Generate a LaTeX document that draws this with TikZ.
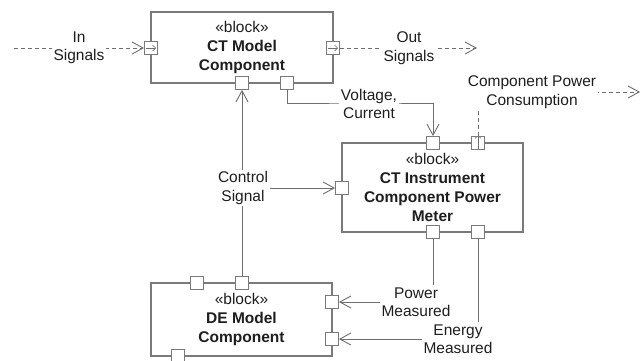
\documentclass[tikz,border=0pt]{standalone}
\usepackage{fontspec}
\setmainfont{Liberation Sans}
\usepackage{tikz}
\usetikzlibrary{arrows.meta,positioning,backgrounds}
\definecolor{wire}{HTML}{6E6E6E}
\definecolor{edge}{HTML}{7A7A7A}
\definecolor{ink}{HTML}{1E1E1E}
\tikzset{
  blockbox/.style={rectangle, draw=edge, fill=white, line width=1.1pt, align=center,
                   text=ink, font=\fontsize{15.5}{19.2}\selectfont, inner sep=0pt},
  port/.style={rectangle, draw=edge, fill=white, line width=0.9pt, minimum size=13pt, inner sep=0pt},
  portE/.style={port, path picture={\draw[wire, line width=0.6pt, -{Straight Barb[length=3pt,width=6pt]}]
                ([xshift=1.5pt]path picture bounding box.west) -- ([xshift=-1.5pt]path picture bounding box.east);}},
  portN/.style={port, path picture={\draw[wire, line width=0.6pt, -{Straight Barb[length=3pt,width=6pt]}]
                ([yshift=-1.5pt]path picture bounding box.south) -- ([yshift=1.5pt]path picture bounding box.north);}},
  lbl/.style={fill=white, align=center, text=ink, inner sep=2pt,
              font=\fontsize{15.5}{18.5}\selectfont},
  flow/.style={-{Straight Barb[length=11pt,width=12pt]}, draw=wire, line width=0.9pt},
  sigflow/.style={flow, dash pattern=on 4pt off 3pt}
}
\begin{document}
\begin{tikzpicture}[x=1pt,y=-1pt]
  \useasboundingbox (0,0) rectangle (641,360);
  % ports
  \node[portE] (ctmIn) at (151,48) {};
  \node[portE] (ctmOut) at (333,48) {};
  \node[port] (ctmCtrl) at (242,83) {};
  \node[port] (ctmVI) at (287,83) {};
  \node[port] (ctiVI) at (433,143) {};
  \node[portN] (ctiPwr) at (478,143) {};
  \node[port] (ctiCtrl) at (342,188) {};
  \node[port] (ctiP) at (433,232) {};
  \node[port] (ctiE) at (478,232) {};
  \node[port] (demA) at (197,283) {};
  \node[port] (demCtrl) at (242,283) {};
  \node[port] (demP) at (332,302) {};
  \node[port] (demE) at (332,339) {};
  \node[port] (demB) at (178,356) {};
  \coordinate (inSrc) at (14,48);
  \coordinate (outDst) at (477,48);
  \coordinate (pwrDst) at (640,92);
  \coordinate (viBend) at (370,103);
  % labels
  \node[lbl] (inLbl) at (79,48) {In\\Signals};
  \node[lbl] (outLbl) at (409,48) {Out\\Signals};
  \node[lbl] (viLbl) at (369,104) {Voltage,\\Current};
  \node[lbl] (pwrLbl) at (532,92) {Component Power\\Consumption};
  \node[lbl] (ctrlLbl) at (243,188) {Control\\Signal};
  \node[lbl] (pmLbl) at (416,302) {Power\\Measured};
  \node[lbl] (emLbl) at (458,339) {Energy\\Measured};
  \begin{scope}[on background layer]
    % blocks
    \node[blockbox, minimum width=182pt, minimum height=71pt] (ctm) at (242,47.5)
      {«block»\\\textbf{CT Model}\\\textbf{Component}};
    \node[blockbox, minimum width=181pt, minimum height=89pt] (cti) at (432.5,187.5)
      {«block»\\\textbf{CT Instrument}\\\textbf{Component Power}\\\textbf{Meter}};
    \node[blockbox, minimum width=181pt, minimum height=73pt] (dem) at (241.5,319.5)
      {«block»\\\textbf{DE Model}\\\textbf{Component}};
    % connectors
    \draw[sigflow] (inSrc) -- (ctmIn.west);
    \draw[sigflow] (ctmOut.east) -- (outDst);
    \draw[sigflow] (ctiPwr.north) |- (pwrDst);
    \draw[flow] (ctmVI.south) |- (viBend) -| (ctiVI.north);
    \draw[flow] (demCtrl.north) -- (ctmCtrl.south);
    \draw[flow] (ctiP.south) |- (demP.east);
    \draw[flow] (ctiE.south) |- (demE.east);
  \end{scope}
  \draw[flow] (ctrlLbl.east) -- (ctiCtrl.west);
\end{tikzpicture}
\end{document}
